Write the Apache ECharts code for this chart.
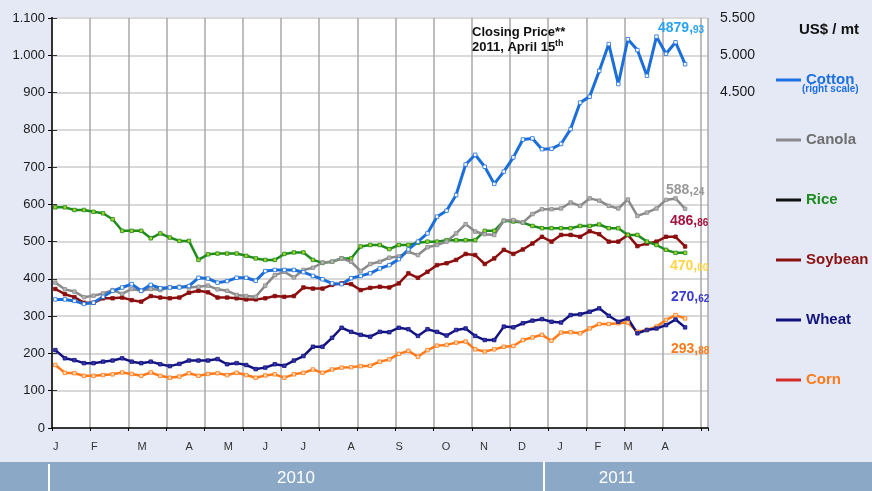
<!DOCTYPE html>
<html>
<head>
<meta charset="utf-8">
<title>Commodity prices 2010-2011</title>
<script src="https://cdn.jsdelivr.net/npm/echarts@6/dist/echarts.min.js"></script>
<style>
html,body{margin:0;padding:0;width:100%;height:100%;background:#E4E9F5;}
#main{width:872px;height:491px;}
</style>
</head>
<body>
<div id="main"></div>
<script>
// weekly closing prices, first week of Jan 2010 .. April 15th 2011 (US$/mt)
var cotton = [1725, 1725, 1705, 1665, 1680, 1760, 1840, 1885, 1930, 1840,
  1920, 1875, 1885, 1885, 1905, 2015, 2005, 1950, 1970, 2015,
  2015, 1975, 2105, 2120, 2120, 2120, 2090, 2040, 1995, 1940,
  1930, 2010, 2040, 2075, 2140, 2185, 2265, 2395, 2500, 2610,
  2835, 2915, 3125, 3535, 3665, 3505, 3275, 3440, 3630, 3870,
  3885, 3740, 3745, 3810, 4010, 4365, 4445, 4790, 5150, 4615,
  5215, 5070, 4725, 5250, 5020, 5175, 4880];
var canola = [390, 372, 366, 351, 355, 361, 370, 360, 373, 368,
  373, 370, 377, 379, 377, 379, 382, 372, 368, 357,
  354, 352, 382, 410, 419, 404, 424, 430, 444, 446,
  455, 446, 421, 440, 446, 457, 460, 473, 464, 485,
  491, 500, 522, 547, 527, 520, 518, 556, 558, 551,
  574, 587, 587, 589, 605, 596, 616, 610, 596, 589,
  613, 569, 578, 589, 612, 616, 588];
var rice = [592, 592, 585, 585, 580, 576, 560, 529, 529, 529,
  509, 522, 511, 502, 502, 451, 466, 468, 468, 468,
  462, 455, 451, 451, 467, 471, 471, 451, 443, 446,
  455, 455, 487, 491, 491, 480, 491, 491, 497, 500,
  500, 504, 504, 504, 504, 529, 529, 556, 554, 551,
  542, 536, 536, 536, 536, 542, 542, 546, 536, 536,
  518, 518, 500, 491, 478, 470, 470];
var soybean = [373, 359, 351, 336, 336, 348, 348, 350, 343, 339,
  354, 350, 348, 350, 363, 368, 364, 350, 350, 348,
  345, 345, 348, 354, 352, 354, 377, 374, 374, 384,
  388, 386, 370, 376, 379, 377, 388, 415, 403, 419,
  437, 442, 451, 467, 464, 440, 455, 478, 467, 479,
  495, 513, 500, 518, 518, 513, 528, 520, 500, 500,
  518, 488, 495, 500, 513, 513, 487];
var wheat = [209, 187, 182, 174, 174, 178, 181, 187, 178, 174,
  178, 171, 166, 172, 181, 181, 181, 185, 171, 174,
  169, 158, 162, 171, 167, 181, 193, 218, 218, 242,
  269, 258, 250, 245, 258, 257, 269, 265, 247, 265,
  258, 248, 263, 267, 247, 236, 236, 272, 270, 281,
  288, 292, 285, 283, 303, 305, 312, 321, 301, 285,
  294, 254, 263, 267, 276, 291, 270];
var corn = [169, 148, 147, 140, 140, 142, 144, 149, 145, 140,
  149, 140, 135, 138, 147, 140, 145, 147, 142, 148,
  142, 135, 141, 144, 135, 144, 148, 157, 148, 157,
  162, 163, 166, 167, 178, 184, 199, 207, 191, 209,
  221, 223, 229, 232, 211, 205, 211, 218, 220, 236,
  243, 250, 234, 256, 257, 254, 267, 279, 279, 281,
  283, 258, 263, 272, 290, 303, 294];

var monthLabels = ['J', 'F', 'M', 'A', 'M', 'J', 'J', 'A', 'S', 'O', 'N', 'D', 'J', 'F', 'M', 'A'];
var monthLabelPos = [0.4, 4.43, 9.43, 14.38, 18.47, 22.35, 26.33, 31.35, 36.38, 41.3, 45.28, 49.26, 53.24, 57.2, 60.37, 64.25];

// closing price labels (integer part, decimals)
var closing = {
  cotton: ['4879', '93'],
  canola: ['588', '24'],
  soybean: ['486', '86'],
  rice: ['470', '00'],
  wheat: ['270', '62'],
  corn: ['293', '88']
};

var xShift = 0.35;
function pts(arr) {
  return arr.map(function (v, i) { return [i + xShift, v]; });
}
function dotted(v) {
  if (v >= 1000) {
    var r = String(v % 1000);
    while (r.length < 3) r = '0' + r;
    return Math.floor(v / 1000) + '.' + r;
  }
  return String(v);
}

var myChart = echarts.init(document.getElementById('main'));

function mkSeries(name, data, lineColor, fill, border, yIdx, width) {
  return {
    name: name,
    type: 'line',
    yAxisIndex: yIdx || 0,
    data: pts(data),
    symbol: 'rect',
    symbolSize: 3.5,
    showSymbol: true,
    animation: false,
    lineStyle: { color: lineColor, width: width || 2.5 },
    itemStyle: { color: fill, borderColor: border, borderWidth: 0.8 },
    emphasis: { disabled: true }
  };
}

var legendFont = { fontSize: 15, fontWeight: 'bold', fontFamily: 'Liberation Sans, Arial, sans-serif', lineHeight: 18 };
function legendItem(name, iconColor, textColor) {
  return {
    name: name,
    itemStyle: { color: iconColor, borderWidth: 0 },
    textStyle: Object.assign({ color: textColor }, legendFont)
  };
}

function endLabel(val, color, x, y) {
  return {
    type: 'text',
    x: x, y: y,
    style: {
      text: '{a|' + val[0] + ',}{b|' + val[1] + '}',
      verticalAlign: 'middle',
      rich: {
        a: { fontSize: 14, fontWeight: 'bold', fill: color, color: color, fontFamily: 'Liberation Sans, Arial, sans-serif' },
        b: { fontSize: 10, fontWeight: 'bold', fill: color, color: color, fontFamily: 'Liberation Sans, Arial, sans-serif', verticalAlign: 'bottom', padding: [3, 0, 0, 0] }
      }
    },
    z: 100
  };
}

myChart.setOption({
  backgroundColor: '#E4E9F5',
  animation: false,
  grid: {
    left: 52, right: 164, top: 18, bottom: 63,
    show: true, backgroundColor: '#ffffff', borderWidth: 0
  },
  xAxis: [{
    type: 'value',
    min: 0, max: 68.75, interval: 4,
    position: 'bottom',
    axisLine: { show: true, lineStyle: { color: '#000', width: 1.5 } },
    axisTick: { show: true, length: 3, lineStyle: { color: '#000' } },
    axisLabel: { show: false },
    splitLine: { show: true, lineStyle: { color: '#a9a9a9', width: 1.5 } }
  }, {
    type: 'value',
    min: 0, max: 68.75,
    position: 'bottom',
    offset: 0,
    axisLine: { show: false },
    axisTick: { show: false },
    splitLine: { show: false },
    axisLabel: {
      customValues: monthLabelPos,
      margin: 13,
      color: '#333',
      fontSize: 11,
      fontFamily: 'Liberation Sans Narrow, Arial Narrow, Liberation Sans, sans-serif',
      formatter: function (v) {
        for (var k = 0; k < monthLabelPos.length; k++) {
          if (Math.abs(monthLabelPos[k] - v) < 0.01) return monthLabels[k];
        }
        return '';
      }
    }
  }],
  yAxis: [{
    type: 'value',
    min: 0, max: 1100, interval: 100,
    axisLine: { show: true, lineStyle: { color: '#000', width: 2 } },
    axisTick: { show: true, length: 4, lineStyle: { color: '#000' } },
    axisLabel: {
      color: '#1a1a1a', fontSize: 13, margin: 7,
      fontFamily: 'Liberation Sans, Arial, sans-serif',
      formatter: dotted
    },
    splitLine: { show: true, lineStyle: { color: '#d9d9d9', width: 2 } }
  }, {
    type: 'value',
    min: 0, max: 5500, interval: 500,
    position: 'right',
    axisLine: { show: true, lineStyle: { color: '#333', width: 2 } },
    axisTick: { show: true, length: 5, lineStyle: { color: '#333' } },
    axisLabel: {
      color: '#1a1a1a', fontSize: 14, margin: 12,
      fontFamily: 'Liberation Sans, Arial, sans-serif',
      formatter: function (v) { return v >= 4500 ? dotted(v) : ''; }
    },
    splitLine: { show: false }
  }],
  legend: {
    orient: 'vertical',
    left: 771, top: 66,
    icon: 'rect',
    itemWidth: 25, itemHeight: 3,
    itemGap: 42,
    selectedMode: false,
    data: [
      legendItem('Cotton', '#1E6FE0', '#1E6FE0'),
      legendItem('Canola', '#8a8a8a', '#6e6e6e'),
      legendItem('Rice', '#111111', '#1E8C1E'),
      legendItem('Soybean', '#8B1010', '#8B1010'),
      legendItem('Wheat', '#13137E', '#13137E'),
      legendItem('Corn', '#D42A2A', '#FF7A1A')
    ]
  },
  graphic: [
    { type: 'rect', shape: { x: 0, y: 462, width: 872, height: 29 }, style: { fill: '#8BA8C6' }, z: 0 },
    { type: 'rect', shape: { x: 48, y: 464, width: 2, height: 27 }, style: { fill: '#ffffff' }, z: 1 },
    { type: 'rect', shape: { x: 543, y: 462, width: 2, height: 29 }, style: { fill: '#ffffff' }, z: 1 },
    { type: 'text', x: 296, y: 478, style: { text: '2010', fill: '#ffffff', fontSize: 17, fontFamily: 'Liberation Sans, Arial, sans-serif', align: 'center', verticalAlign: 'middle' }, z: 2 },
    { type: 'text', x: 617, y: 478, style: { text: '2011', fill: '#ffffff', fontSize: 17, fontFamily: 'Liberation Sans, Arial, sans-serif', align: 'center', verticalAlign: 'middle' }, z: 2 },
    { type: 'text', x: 829, y: 30, style: { text: 'US$ / mt', fill: '#111', fontSize: 15, fontWeight: 'bold', fontFamily: 'Liberation Sans, Arial, sans-serif', align: 'center', verticalAlign: 'middle' }, z: 2 },
    { type: 'text', x: 802, y: 89, style: { text: '(right scale)', fill: '#1E6FE0', fontSize: 10, fontWeight: 'bold', fontFamily: 'Liberation Sans, Arial, sans-serif', verticalAlign: 'middle' }, z: 2 },
    { type: 'text', x: 472, y: 32, style: { text: 'Closing Price**', fill: '#111', fontSize: 13, fontWeight: 'bold', fontFamily: 'Liberation Sans, Arial, sans-serif', verticalAlign: 'middle' }, z: 100 },
    {
      type: 'text', x: 472, y: 47,
      style: {
        text: '{a|2011, April 15}{b|th}',
        verticalAlign: 'middle',
        rich: {
          a: { fontSize: 13, fontWeight: 'bold', fill: '#111', color: '#111', fontFamily: 'Liberation Sans, Arial, sans-serif' },
          b: { fontSize: 9, fontWeight: 'bold', fill: '#111', color: '#111', fontFamily: 'Liberation Sans, Arial, sans-serif', verticalAlign: 'top', padding: [0, 0, 6, 0] }
        }
      },
      z: 100
    },
    endLabel(closing.cotton, '#2AA2F2', 658, 28),
    endLabel(closing.canola, '#999999', 666, 190),
    endLabel(closing.soybean, '#A3133F', 670, 221),
    endLabel(closing.rice, '#FFD54A', 670, 266),
    endLabel(closing.wheat, '#3B3BCC', 671, 297),
    endLabel(closing.corn, '#FF7A1A', 671, 349)
  ],
  series: [
    mkSeries('Corn', corn, '#FF7A1A', '#FFD9B0', '#FF7A1A', 0),
    mkSeries('Wheat', wheat, '#13137E', '#3434B0', '#13137E', 0),
    mkSeries('Soybean', soybean, '#8B0F0F', '#8B0F0F', '#8B0F0F', 0),
    mkSeries('Rice', rice, '#1E8C1E', '#A6D42A', '#1E8C1E', 0),
    mkSeries('Canola', canola, '#8a8a8a', '#b5b5b5', '#8a8a8a', 0),
    mkSeries('Cotton', cotton, '#1C6FD8', '#ffffff', '#1C6FD8', 1, 3)
  ]
});

window.addEventListener('resize', function () {
  myChart.resize();
});
</script>
</body>
</html>
